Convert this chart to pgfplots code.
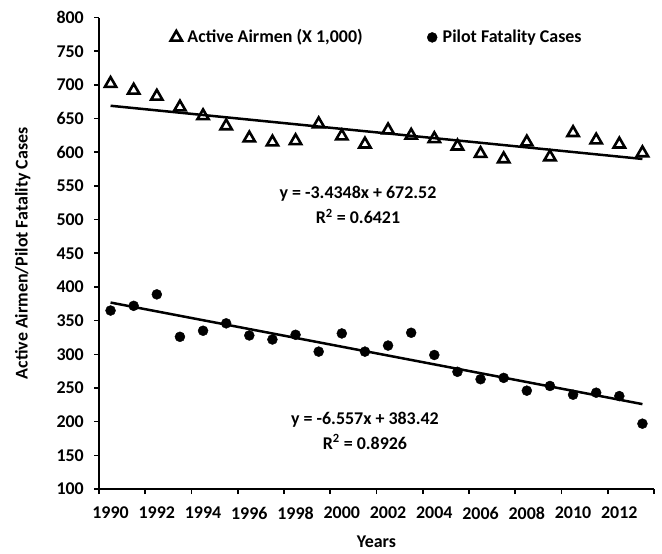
\documentclass[border=0pt]{standalone}
\usepackage{pgfplots}
\pgfplotsset{compat=1.18}
\usepackage{fontspec}
\setmainfont{Carlito}
\pgfplotstableread{
year airmen fatal
1990 702 365
1991 692 372
1992 683 389
1993 667 326
1994 654 335
1995 639 346
1996 621 328
1997 615 322
1998 617 329
1999 642 304
2000 624 331
2001 612 304
2002 633 313
2003 625 332
2004 620 299
2005 609 274
2006 598 263
2007 590 265
2008 615 246
2009 593 253
2010 629 240
2011 618 243
2012 612 238
2013 599 197
}\datatable
\begin{document}
\fontsize{18}{21}\selectfont\bfseries
\begin{tikzpicture}
\useasboundingbox (-99bp,-65bp) rectangle (563bp,489bp);
\begin{axis}[
  scale only axis,
  width=555bp, height=471.4bp,
  xmin=1989.5, xmax=2013.5,
  ymin=100, ymax=800,
  axis lines*=left,
  axis line style={line width=2bp, black},
  tick style={line width=1.6bp, black},
  tick align=outside,
  major tick length=5bp,
  xtick={1989.5,1991.5,...,2013.5},
  xticklabels={},
  extra x ticks={1990,1992,...,2012},
  extra x tick labels={1990,1992,1994,1996,1998,2000,2002,2004,2006,2008,2010,2012},
  extra x tick style={major tick length=0pt, xticklabel style={yshift=-12bp}},
  ytick={100,150,...,800},
  /pgf/number format/assume math mode=true,
  /pgf/number format/1000 sep={},
  ticklabel style={font=\fontsize{18}{21}\selectfont\bfseries},
  yticklabel style={xshift=-4bp},
  xlabel={Years},
  ylabel={Active Airmen/Pilot Fatality Cases},
  label style={font=\fontsize{18}{21}\selectfont\bfseries},
  xlabel style={yshift=1bp},
  ylabel style={yshift=14bp},
  legend columns=2,
  legend style={draw=none, fill=none, inner sep=0pt,
    nodes={inner sep=3bp},
    at={(axis description cs:0.1288,0.958)}, anchor=west,
    font=\fontsize{18}{21}\selectfont\bfseries,
    /tikz/every odd column/.append style={column sep=2.5bp},
    /tikz/every even column/.append style={column sep=61.5bp}},
  clip=false,
]
\addplot[only marks, mark=triangle, mark size=6.5bp, mark options={line width=2.6bp, black, fill=white}] table[x=year, y=airmen] {\datatable};
\addlegendentry{Active Airmen (X 1,000)}
\addplot[only marks, mark=*, mark size=5bp, black] table[x=year, y=fatal] {\datatable};
\addlegendentry{Pilot Fatality Cases}
\addplot[black, line width=2.5bp, forget plot] coordinates {(1990,669.09) (2013,590.09)};
\addplot[black, line width=2.5bp, forget plot] coordinates {(1990,376.86) (2013,226.05)};
\node[font=\fontsize{18}{21}\selectfont\bfseries] at (axis cs:2000.7,538) {y = -3.4348x + 672.52};
\node[font=\fontsize{18}{21}\selectfont\bfseries] at (axis cs:2000.7,505) {R\textsuperscript{2} = 0.6421};
\node[font=\fontsize{18}{21}\selectfont\bfseries] at (axis cs:2001,203) {y = -6.557x + 383.42};
\node[font=\fontsize{18}{21}\selectfont\bfseries] at (axis cs:2001,170) {R\textsuperscript{2} = 0.8926};
\end{axis}
\end{tikzpicture}
\end{document}
